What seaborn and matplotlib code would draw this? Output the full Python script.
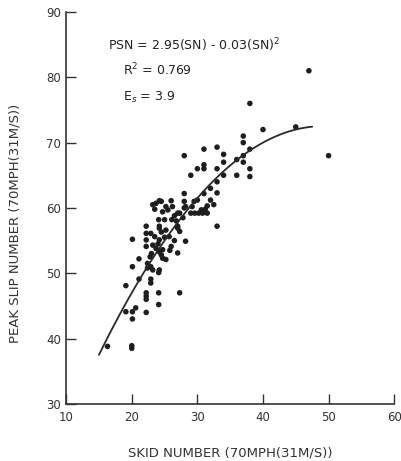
import numpy as np
import pandas as pd
import seaborn as sns
import matplotlib.pyplot as plt

# skid number (SN) and peak slip number (PSN)
skid = [47, 38, 40, 45, 50, 37, 37, 38, 37, 36, 37, 38, 36, 38,
        28, 31, 33, 34, 34, 33, 31, 31, 30, 29, 34, 33, 32, 33, 28, 28, 30, 32,
        33, 24.2, 23.2, 23.7, 24.5, 26, 26.2, 25.2, 25.5, 24.7, 28.2, 29.2, 29, 29.6,
        30.2, 30.8, 31.5, 31.2, 31.5, 30.6, 27.3, 27, 28,
        24.1, 25, 26.1, 22.2, 22.2, 22.2, 22.2, 22.9, 23.5, 24.2, 24.2, 24.5, 25.2,
        25.7, 27, 27.3, 28.2, 20.1, 23.2, 23.7, 24.2, 24.7, 24.5, 24.7, 25.2, 26, 27,
        21.1, 22.4, 22.9, 22.4, 23.2, 24.2, 20.1, 19.1, 22.9, 22.9, 24.1, 24.1, 27.3,
        22.2, 22.2, 22.2, 24.1, 22.2, 19.1, 20.1, 20.6, 20.1, 20, 20, 16.3, 21.1,
        24.2, 27, 23.5, 26.5, 27.8, 29.5, 31, 32.5, 23, 25.8, 26.5, 24, 25, 22.8, 26.8]
peak_slip = [81, 76, 72, 72.4, 68, 71, 70, 69, 68, 67.4, 67, 66, 65, 64.8,
             68, 69, 69.3, 68.2, 67, 66, 66.6, 66, 66, 65, 65, 64, 63, 62.3, 62.2, 61, 61.2, 61.2,
             57.2, 61.1, 60.5, 60.7, 61, 61.1, 60.2, 60.2, 59.7, 59.4, 60.2, 60.2, 59.2, 59.2,
             59.2, 59.2, 59.2, 59.8, 60.3, 59.7, 59.2, 59.2, 60,
             58.2, 58.2, 58.2, 57.2, 56.1, 55.1, 54.1, 56.1, 55.6, 55.1, 57.2, 56.3, 56.6,
             55.6, 57.2, 56.4, 54.9, 55.2, 54.3, 53.8, 53.3, 53.6, 52.8, 52.3, 52.1, 54.1, 53.1,
             52.2, 51.5, 51, 50.8, 50.5, 50.5, 51, 48.1, 49.1, 48.5, 50.1, 47, 47,
             47, 46.5, 46, 45.2, 44, 44.1, 44.1, 44.7, 43, 38.5, 38.9, 38.8, 49.1,
             56.9, 56.9, 59.8, 58.8, 58.5, 61, 62.2, 60.5, 53, 53.5, 55, 54.5, 55.5, 52.5, 58]

# fitted curve PSN = 2.95(SN) - 0.03(SN)^2
sn_fit = np.linspace(15, 47.5, 100)
psn_fit = 2.95 * sn_fit - 0.03 * sn_fit ** 2

df = pd.DataFrame({"SN": skid, "PSN": peak_slip})

sns.set_style("ticks")
plt.rcParams['font.family'] = ['DejaVu Sans']

fig = plt.figure(figsize=(4.01, 4.61), dpi=100)
ax = fig.add_axes([0.165, 0.124, 0.818, 0.850])

sns.scatterplot(data=df, x="SN", y="PSN", s=16, color="#1e1e1e", edgecolor="none", ax=ax)
sns.lineplot(x=sn_fit, y=psn_fit, color="#2a2a2a", linewidth=1.3, ax=ax)

ax.set_xlim(10, 60)
ax.set_ylim(30, 90)
ax.set_xticks([10, 20, 30, 40, 50, 60])
ax.set_yticks([30, 40, 50, 60, 70, 80, 90])
ax.tick_params(direction="in", length=7, width=1, labelsize=8.5, colors="#333333")
ax.tick_params(axis="x", pad=5)
sns.despine(ax=ax)
for sp in ["left", "bottom"]:
    ax.spines[sp].set_linewidth(1.2)
    ax.spines[sp].set_color("#333333")

ax.set_xlabel("SKID NUMBER (70MPH(31M/S))", fontsize=9.5, color="#333333", labelpad=16)
ax.set_ylabel("PEAK SLIP NUMBER (70MPH(31M/S))", fontsize=9.5, color="#333333", labelpad=20)
ax.yaxis.set_label_coords(-0.135, 0.46)

ax.text(0.128, 0.915, "PSN = 2.95(SN) - 0.03(SN)$^2$", transform=ax.transAxes,
        fontsize=9, color="#222222", va="center")
ax.text(0.172, 0.852, "R$^2$ = 0.769", transform=ax.transAxes,
        fontsize=9, color="#222222", va="center")
ax.text(0.172, 0.783, "E$_s$ = 3.9", transform=ax.transAxes,
        fontsize=9, color="#222222", va="center")

fig.savefig("out.png", dpi=100)
